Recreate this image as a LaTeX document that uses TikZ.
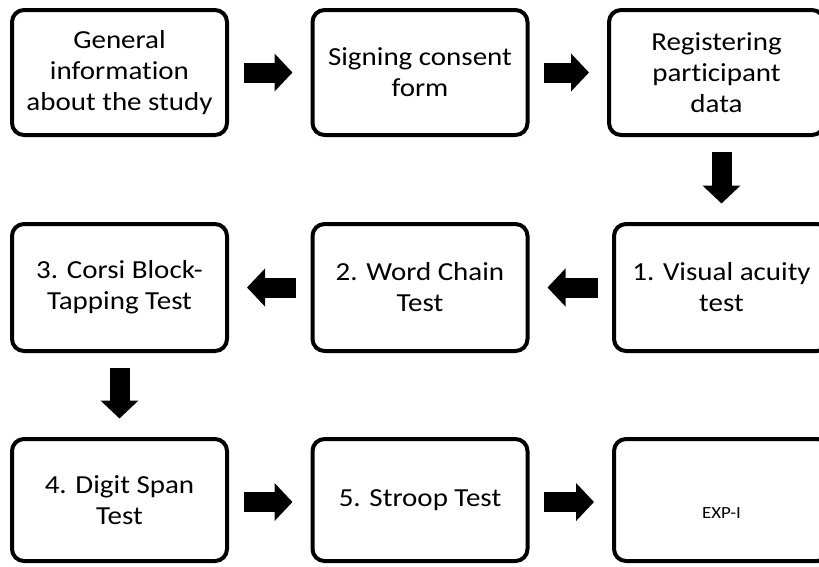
\documentclass[tikz,border=0pt]{standalone}
\usepackage{fontspec}
\setmainfont{Carlito}[FakeStretch=1.115, Ligatures={NoCommon}]
\usetikzlibrary{arrows.meta}
\tikzset{
  stepbox/.style={draw=black, line width=4pt, rounded corners=12pt, fill=white,
    minimum width=215pt, minimum height=125pt, align=center,
    font=\fontsize{26}{31}\selectfont, inner sep=0pt},
  blockarrow/.style={draw=black, line width=20pt,
    -{Triangle[length=18pt,width=37pt]}, shorten <=14.5pt, shorten >=18pt},
}
\begin{document}
\begin{tikzpicture}[x=1pt,y=-1pt]
\useasboundingbox (0,0) rectangle (819,566);
\clip (0,0) rectangle (819,566);
\fill[white] (0,0) rectangle (819,566);
% top row
\node[stepbox] (b1) at (119.5,72.5) {General\\information\\about the study};
\node[stepbox] (b2) at (420,72.5) {Signing consent\\form};
\node[stepbox] (b3) at (716.5,72.5) {Registering\\participant\\data};
% middle row
\node[stepbox, minimum height=127pt] (b4) at (721.5,287.5) {1. Visual acuity\\test};
\node[stepbox, minimum height=127pt] (b5) at (420,287.5) {2. Word Chain\\Test};
\node[stepbox, minimum height=127pt] (b6) at (119.5,287.5) {3. Corsi Block-\\Tapping Test};
% bottom row
\node[stepbox, minimum height=122pt] (b7) at (119.5,500) {4. Digit Span\\Test};
\node[stepbox, minimum height=122pt] (b8) at (420,500) {5. Stroop Test};
\node[stepbox, minimum height=122pt] (b9) at (721.5,500) {};
\node[font=\fontsize{17}{20}\selectfont, inner sep=0pt] (b9t) at ([yshift=-13pt]b9.center) {EXP-I};
% arrows
\draw[blockarrow] (b1.east) -- (b2.west);
\draw[blockarrow] (b2.east) -- (b3.west);
\draw[blockarrow, shorten <=15pt, shorten >=18.5pt] (b4.north |- b3.south) -- (b4.north);
\draw[blockarrow] (b4.west) -- (b5.east);
\draw[blockarrow] (b5.west) -- (b6.east);
\draw[blockarrow, shorten <=15pt, shorten >=18.5pt] (b6.south) -- (b7.north);
\draw[blockarrow] ([yshift=-2pt]b7.east) -- ([yshift=-2pt]b8.west);
\draw[blockarrow] ([yshift=-2pt]b8.east) -- ([yshift=-2pt]b9.west);
\end{tikzpicture}
\end{document}
